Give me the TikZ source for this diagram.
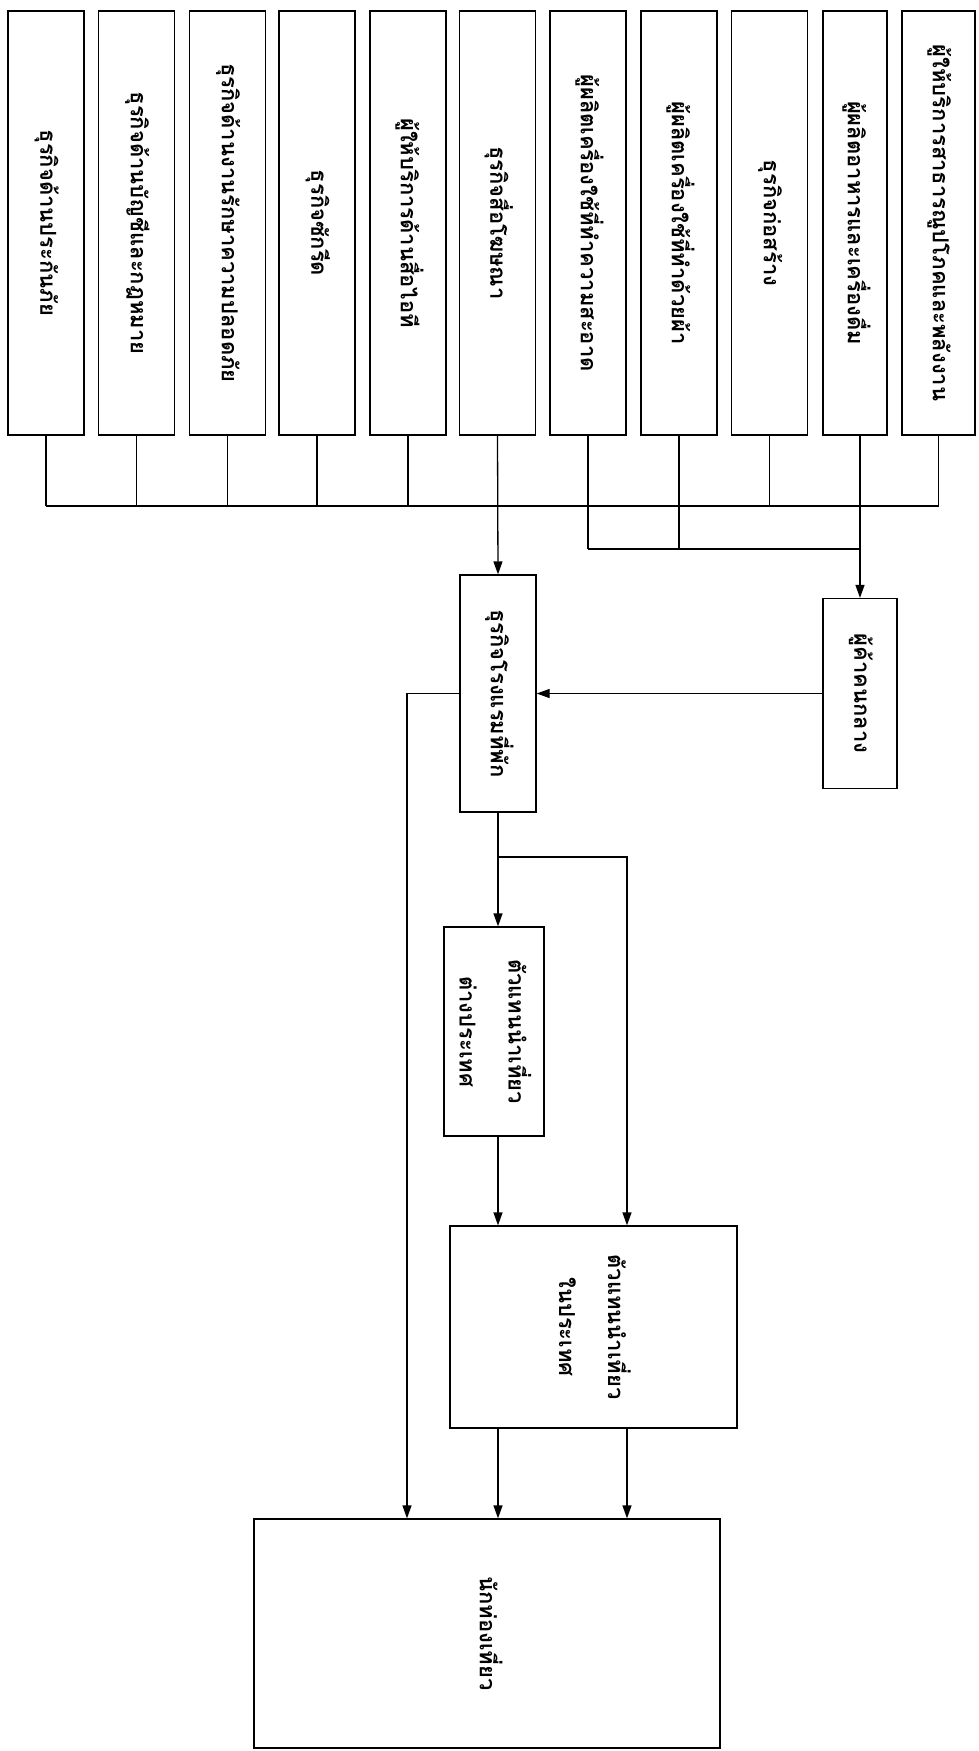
\documentclass[tikz,border=0pt]{standalone}
\usepackage{fontspec}
\usepackage{graphicx}
\newfontfamily\thaifont[Script=Thai]{Loma}
\usetikzlibrary{arrows.meta}
\newcommand{\vlab}[1]{\rotatebox{-90}{\begin{tabular}{@{}c@{}}#1\end{tabular}}}

\begin{document}
\begin{tikzpicture}[x=1pt, y=-1pt,
    box/.style={draw, line width=1.3pt, inner sep=0pt, minimum width=76pt, font=\thaifont\bfseries\fontsize{22}{28}\selectfont},
    tall/.style={box, minimum height=424pt},
    twoline/.style={font=\thaifont\bfseries\fontsize{22}{49}\selectfont},
    ln/.style={line width=1.3pt},
    arr/.style={-{Triangle[length=13pt,width=9pt]}, line width=1.3pt}
  ]
  \useasboundingbox (0,0) rectangle (978,1751);

  % suppliers
  \node[tall] (a) at (46,223) {\vlab{ธุรกิจด้านประกันภัย}};
  \node[tall] (b) at (136.5,223) {\vlab{ธุรกิจด้านบัญชีและกฎหมาย}};
  \node[tall] (c) at (227.5,223) {\vlab{ธุรกิจด้านงานรักษาความปลอดภัย}};
  \node[tall] (d) at (317,223) {\vlab{ธุรกิจซักรีด}};
  \node[tall] (e) at (408,223) {\vlab{ผู้ให้บริการด้านสื่อไอที}};
  \node[tall] (f) at (497.5,223) {\vlab{ธุรกิจสื่อโฆษณา}};
  \node[tall] (g) at (588,223) {\vlab{ผู้ผลิตเครื่องใช้ที่ทำความสะอาด}};
  \node[tall] (h) at (679,223) {\vlab{ผู้ผลิตเครื่องใช้ที่ทำด้วยผ้า}};
  \node[tall] (i) at (769.5,223) {\vlab{ธุรกิจก่อสร้าง}};
  \node[tall, minimum width=64pt] (j) at (855,223) {\vlab{ผู้ผลิตอาหารและเครื่องดื่ม}};
  \node[tall, minimum width=73pt] (k) at (938.5,223) {\vlab{ผู้ให้บริการสาธารณูปโภคและพลังงาน}};

  % middle
  \node[box, minimum height=237pt] (l) at (498,693.5) {\vlab{ธุรกิจโรงแรมที่พัก}};
  \node[box, minimum width=74pt, minimum height=190pt] (m) at (860,693.5) {\vlab{ผู้ค้าคนกลาง}};
  \node[box, twoline, minimum width=100pt, minimum height=209pt] (n) at (494,1031.5) {\vlab{ตัวแทนนำเที่ยว\\ต่างประเทศ}};
  \node[box, twoline, minimum width=287pt, minimum height=202pt] (o) at (593.5,1327) {\vlab{ตัวแทนนำเที่ยว\\ในประเทศ}};
  \node[box, minimum width=466pt, minimum height=229pt] (p) at (487,1633.5) {\vlab{นักท่องเที่ยว}};

  \coordinate (bus) at (0,506);
  \coordinate (bus2) at (0,549);
  \coordinate (lp) at (407,693.5);
  \coordinate (br) at (627,857);

  \draw[ln] (a.south) -- (a.south |- bus);
  \draw[ln] (b.south) -- (b.south |- bus);
  \draw[ln] (c.south) -- (c.south |- bus);
  \draw[ln] (d.south) -- (d.south |- bus);
  \draw[ln] (e.south) -- (e.south |- bus);
  \draw[ln] (i.south) -- (i.south |- bus);
  \draw[ln] (k.south) -- (k.south |- bus);
  \draw[ln] (a.south |- bus) -- (k.south |- bus);
  \draw[ln] (g.south) -- (g.south |- bus2);
  \draw[ln] (h.south) -- (h.south |- bus2);
  \draw[ln] (g.south |- bus2) -- (m.north |- bus2);

  \draw[arr] (f.south) -- (l.north);
  \draw[arr] (m.north |- j.south) -- (m.north);
  \draw[arr] (m.west) -- (l.east);
  \draw[arr] (l.west) -- (lp) -- (lp |- p.north);
  \draw[arr] (l.south) -- (l.south |- n.north);
  \draw[arr] (l.south |- br) -- (br) -- (br |- o.north);
  \draw[arr] (l.south |- n.south) -- (l.south |- o.north);
  \draw[arr] (l.south |- o.south) -- (l.south |- p.north);
  \draw[arr] (br |- o.south) -- (br |- p.north);
\end{tikzpicture}
\end{document}
